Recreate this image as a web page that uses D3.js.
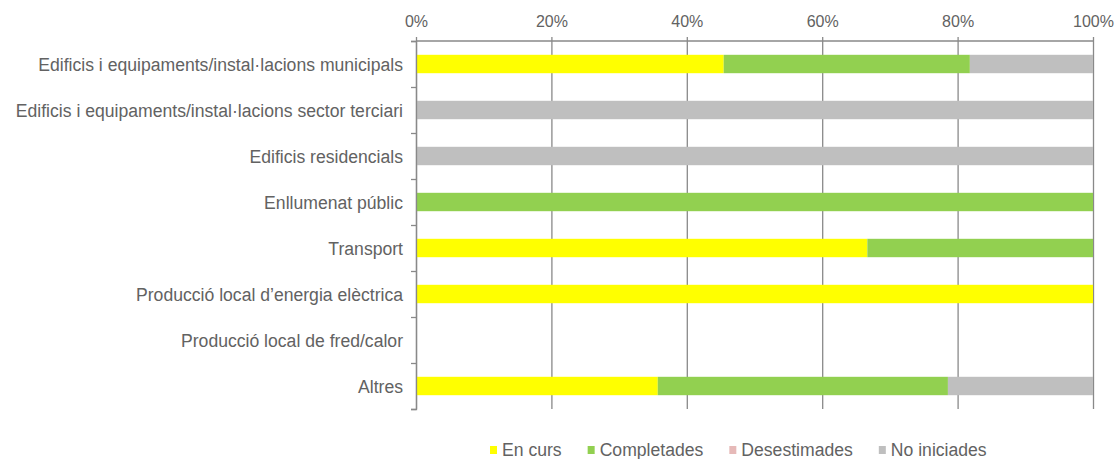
<!DOCTYPE html>
<html>
<head>
<meta charset="utf-8">
<script src="https://cdn.jsdelivr.net/npm/d3@7"></script>
<style>
  body { margin: 0; background: #fff; }
  text { font-family: "Liberation Sans", Arial, sans-serif; fill: #626262; }
</style>
</head>
<body>
<div id="chart"></div>
<script>
// categories and series (percent of actions per status)
var categories = [
    "Edificis i equipaments/instal·lacions municipals",
    "Edificis i equipaments/instal·lacions sector terciari",
    "Edificis residencials",
    "Enllumenat públic",
    "Transport",
    "Producció local d\u2019energia elèctrica",
    "Producció local de fred/calor",
    "Altres"
];
var enCurs       = [45.45, 0, 0, 0, 66.67, 100, 0, 35.71];
var completades  = [36.36, 0, 0, 100, 33.33, 0, 0, 42.86];
var desestimades = [0, 0, 0, 0, 0, 0, 0, 0];
var noIniciades  = [18.19, 100, 100, 0, 0, 0, 0, 21.43];

var seriesNames = ["En curs", "Completades", "Desestimades", "No iniciades"];
var seriesColors = ["#FFFF00", "#92D050", "#E6B9B8", "#BFBFBF"];
var tickValues = [0, 20, 40, 60, 80, 100];

var svgWidth = 1120;
var svgHeight = 459;
var margin = { top: 41, right: 27, bottom: 50, left: 416 };
var width = svgWidth - margin.left - margin.right;
var height = svgHeight - margin.top - margin.bottom;

var svg = d3.select("#chart")
    .append("svg")
    .attr("width", svgWidth)
    .attr("height", svgHeight);

var chartGroup = svg.append("g")
    .attr("transform", `translate(${margin.left}, ${margin.top})`);

// build rows for stacking
var rows = categories.map(function(c, i) {
    return {
        cat: c,
        "En curs": enCurs[i],
        "Completades": completades[i],
        "Desestimades": desestimades[i],
        "No iniciades": noIniciades[i]
    };
});
var stacked = d3.stack().keys(seriesNames)(rows);

var xScale = d3.scaleLinear().domain([0, 100]).range([0, width]);
var yScale = d3.scaleBand()
    .domain(categories)
    .range([0, height])
    .paddingInner(0.6)
    .paddingOuter(0.3);

// gridlines / top axis
var topAxis = d3.axisTop(xScale)
    .tickValues(tickValues)
    .tickFormat(d => d + "%")
    .tickSize(-height)
    .tickSizeOuter(0);

var gx = chartGroup.append("g").call(topAxis);
gx.select(".domain").remove();
gx.selectAll(".tick line")
    .attr("stroke", "#898989")
    .attr("stroke-width", 1.3)
    .attr("y1", -4)
    .attr("y2", height);
gx.selectAll(".tick text")
    .attr("y", -14)
    .attr("font-size", "16px")
    .style("fill", "#626262");
chartGroup.append("line")
    .attr("x1", 0).attr("x2", width)
    .attr("y1", 0).attr("y2", 0)
    .attr("stroke", "#898989")
    .attr("stroke-width", 1.3);

// bars
chartGroup.selectAll("g.series")
    .data(stacked)
    .enter()
    .append("g")
    .attr("class", "series")
    .attr("fill", (d, i) => seriesColors[i])
    .selectAll("rect")
    .data(d => d)
    .enter()
    .append("rect")
    .attr("x", d => xScale(d[0]))
    .attr("y", d => yScale(d.data.cat))
    .attr("width", d => xScale(d[1]) - xScale(d[0]))
    .attr("height", yScale.bandwidth());

// left axis with ticks between categories
var edgeScale = d3.scaleLinear().domain([0, categories.length]).range([0, height]);
var gy = chartGroup.append("g")
    .call(d3.axisLeft(edgeScale).ticks(categories.length).tickFormat("").tickSize(5).tickSizeOuter(5));
gy.selectAll("line, path").attr("stroke", "#898989").attr("stroke-width", 1.3);

// category labels
chartGroup.selectAll("text.cat")
    .data(categories)
    .enter()
    .append("text")
    .attr("class", "cat")
    .attr("x", -13)
    .attr("y", d => yScale(d) + yScale.bandwidth() / 2 + 1)
    .attr("dy", "0.35em")
    .attr("text-anchor", "end")
    .attr("font-size", "17.6px")
    .text(d => d);

// legend
var legend = svg.append("g").attr("transform", "translate(490, 450)");
var lx = 0;
seriesNames.forEach(function(name, i) {
    legend.append("rect")
        .attr("x", lx)
        .attr("y", -4)
        .attr("width", 7)
        .attr("height", 8)
        .attr("fill", seriesColors[i]);
    var t = legend.append("text")
        .attr("x", lx + 12)
        .attr("y", 0)
        .attr("dy", "0.35em")
        .attr("font-size", "17.6px")
        .text(name);
    lx += 12 + t.node().getComputedTextLength() + 26;
});
</script>
</body>
</html>
